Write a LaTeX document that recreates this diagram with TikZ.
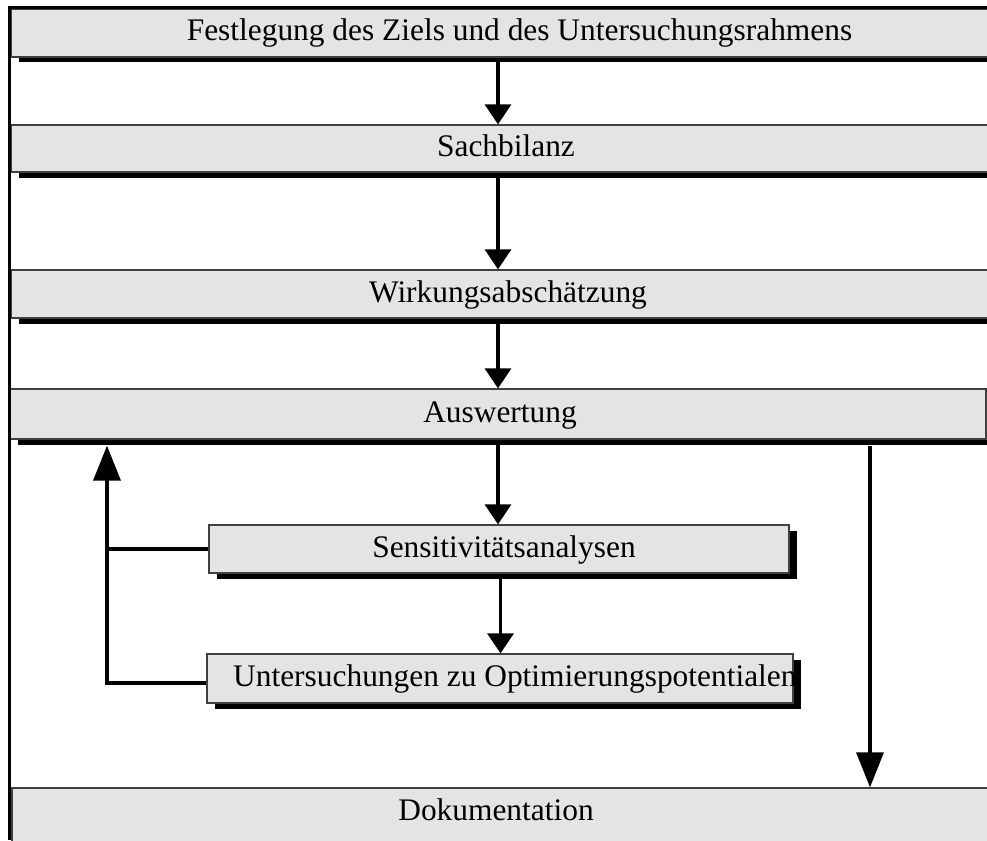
\documentclass[tikz,border=0pt]{standalone}
\usepackage{fontspec}
\setmainfont{Liberation Serif}
\usetikzlibrary{arrows.meta,shadows}
\definecolor{boxgray}{HTML}{E4E4E4}
\begin{document}
\begin{tikzpicture}[x=1pt,y=-1pt,
  box/.style={rectangle, draw=black!75, line width=1.3pt, fill=boxgray, inner sep=0pt,
    general shadow={fill=black, shadow xshift=8pt, shadow yshift=-5.5pt}},
  lbl/.style={anchor=base, inner sep=0pt, font=\fontsize{31.4}{36}\selectfont},
  conn/.style={line width=3.5pt},
  arr/.style={line width=3.5pt, -{Triangle[length=20pt,width=26pt]}},
  bigarr/.style={line width=3.5pt, -{Triangle[length=35pt,width=27pt]}}]
\useasboundingbox (0,0) rectangle (987,840);
\clip (0,0) rectangle (987,840);
% boxes
\node[box, minimum width=979pt, minimum height=48pt] (b1) at (500.5,33) {};
\node[box, minimum width=979pt, minimum height=47pt] (b2) at (500.5,148.5) {};
\node[box, minimum width=979pt, minimum height=48pt] (b3) at (500.5,294) {};
\node[box, minimum width=976pt, minimum height=50pt] (b4) at (498,414) {};
\node[box, minimum width=580pt, minimum height=48pt] (b5) at (499,549) {};
\node[box, minimum width=586pt, minimum height=49pt] (b6) at (500,678.5) {};
\node[box, minimum width=978pt, minimum height=57pt] (b7) at (501,816.5) {};
% texts
\node[lbl] (t1) at (519.5,41) {Festlegung des Ziels und des Untersuchungsrahmens};
\node[lbl] (t2) at (506,156) {Sachbilanz};
\node[lbl] (t3) at (508,302) {Wirkungsabschätzung};
\node[lbl] (t4) at (500,422) {Auswertung};
\node[lbl] (t5) at (504,557) {Sensitivitätsanalysen};
\begin{scope}
\clip (b6.south west) rectangle (b6.north east);
\node[lbl, anchor=base west] (t6) at (233,686) {Untersuchungen zu Optimierungspotentialen};
\end{scope}
\node[lbl] (t7) at (496,820) {Dokumentation};
% connectors
\coordinate (ax) at (498,0);
\coordinate (bx) at (500.5,0);
\coordinate (fl) at (107,0);
\coordinate (rx) at (870,0);
\draw[arr] (b1.south -| ax) -- (b2.north -| ax);
\draw[arr] (b2.south -| ax) -- (b3.north -| ax);
\draw[arr] (b3.south -| ax) -- (b4.north -| ax);
\draw[arr] ([yshift=-5pt]b4.south -| ax) -- (b5.north -| ax);
\draw[arr] ([yshift=-5pt]b5.south -| bx) -- (b6.north -| bx);
\draw[bigarr] ([yshift=-4.5pt]b6.west) -| ([yshift=-6pt]b4.south -| fl);
\draw[conn] (b5.west) -- (b5.west -| fl);
\draw[bigarr] ([yshift=-6pt]b4.south -| rx) -- (b7.north -| rx);
% outer frame
\draw[line width=3pt] (9,840) -- (9,7.5) -- (987,7.5);
\end{tikzpicture}
\end{document}
